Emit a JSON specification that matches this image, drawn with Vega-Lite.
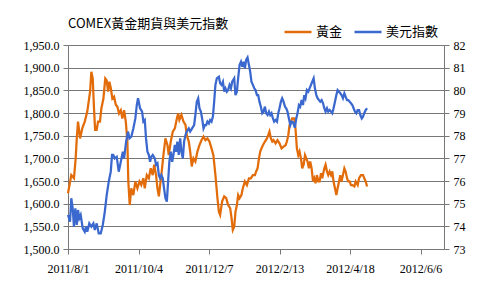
{
  "$schema": "https://vega.github.io/schema/vega-lite/v6.json",
  "width": 376,
  "height": 204,
  "autosize": {"type": "none"},
  "padding": {"left": 68, "top": 45, "right": 37, "bottom": 40},
  "background": "white",
  "config": {
    "view": {"stroke": null},
    "axis": {"labelFont": "Liberation Serif", "labelFontSize": 12, "labelColor": "#000", "domainColor": "#777777", "tickColor": "#777777", "gridColor": "#777777", "gridOpacity": 1, "tickSize": 5},
    "legend": {"labelFont": "Noto Sans CJK TC", "labelFontSize": 13, "labelColor": "#000"}
  },
  "title": {"text": "COMEX黃金期貨與美元指數", "anchor": "start", "frame": "group", "offset": 13, "dy": 27, "font": "Noto Sans CJK TC", "fontSize": 13, "fontWeight": "normal", "color": "#000"},
  "datasets": {
    "gold": [
      {"t":0,"v":1623},{"t":2.1,"v":1663},{"t":3.8,"v":1656},{"t":4.9,"v":1700},{"t":5.6,"v":1744},{"t":6.4,"v":1781},{"t":7.7,"v":1744},{"t":9.1,"v":1766},{"t":10.7,"v":1781},{"t":12.3,"v":1803},{"t":14.1,"v":1847},{"t":14.9,"v":1891},{"t":15.8,"v":1876},{"t":16.6,"v":1810},{"t":17.3,"v":1763},{"t":18.3,"v":1763},{"t":19.2,"v":1781},{"t":20.4,"v":1781},{"t":21.3,"v":1810},{"t":22.6,"v":1832},{"t":23.8,"v":1876},{"t":24.7,"v":1872},{"t":25.6,"v":1847},{"t":26.4,"v":1869},{"t":27.3,"v":1855},{"t":28.3,"v":1832},{"t":29.4,"v":1836},{"t":30.5,"v":1818},{"t":31.5,"v":1814},{"t":32.6,"v":1799},{"t":33.7,"v":1806},{"t":34.7,"v":1788},{"t":35.8,"v":1806},{"t":36.9,"v":1781},{"t":37.9,"v":1737},{"t":38.5,"v":1649},{"t":39.4,"v":1597},{"t":40.4,"v":1634},{"t":41.7,"v":1619},{"t":43.0,"v":1649},{"t":44.3,"v":1634},{"t":45.6,"v":1649},{"t":46.8,"v":1641},{"t":48.1,"v":1656},{"t":49.0,"v":1634},{"t":50.3,"v":1663},{"t":51.6,"v":1656},{"t":52.8,"v":1678},{"t":54.1,"v":1663},{"t":55.0,"v":1686},{"t":56.2,"v":1663},{"t":57.1,"v":1634},{"t":58.0,"v":1616},{"t":58.8,"v":1641},{"t":59.6,"v":1663},{"t":60.9,"v":1707},{"t":62.2,"v":1744},{"t":63.5,"v":1729},{"t":64.3,"v":1707},{"t":65.6,"v":1737},{"t":66.9,"v":1759},{"t":68.2,"v":1766},{"t":69.5,"v":1788},{"t":70.3,"v":1799},{"t":71.1,"v":1785},{"t":72.4,"v":1796},{"t":73.7,"v":1781},{"t":75.0,"v":1774},{"t":75.8,"v":1751},{"t":77.1,"v":1737},{"t":78.0,"v":1715},{"t":79.0,"v":1682},{"t":80.1,"v":1700},{"t":81.3,"v":1693},{"t":82.6,"v":1715},{"t":83.9,"v":1729},{"t":85.2,"v":1740},{"t":86.5,"v":1748},{"t":87.7,"v":1740},{"t":89.0,"v":1744},{"t":90.3,"v":1737},{"t":91.6,"v":1722},{"t":92.8,"v":1707},{"t":94.1,"v":1663},{"t":95.4,"v":1612},{"t":96.3,"v":1582},{"t":97.1,"v":1575},{"t":98.4,"v":1605},{"t":99.7,"v":1616},{"t":101.0,"v":1612},{"t":102.2,"v":1597},{"t":103.5,"v":1590},{"t":104.4,"v":1568},{"t":105.2,"v":1542},{"t":106.1,"v":1549},{"t":106.9,"v":1582},{"t":107.8,"v":1597},{"t":108.6,"v":1619},{"t":109.5,"v":1612},{"t":110.7,"v":1619},{"t":111.6,"v":1634},{"t":112.9,"v":1649},{"t":114.2,"v":1641},{"t":115.5,"v":1656},{"t":116.7,"v":1656},{"t":118.0,"v":1663},{"t":119.3,"v":1663},{"t":120.1,"v":1671},{"t":121.0,"v":1678},{"t":121.9,"v":1700},{"t":122.7,"v":1715},{"t":123.5,"v":1722},{"t":124.4,"v":1729},{"t":125.7,"v":1737},{"t":127.0,"v":1744},{"t":127.8,"v":1751},{"t":128.6,"v":1759},{"t":129.5,"v":1744},{"t":130.4,"v":1737},{"t":131.2,"v":1740},{"t":132.5,"v":1733},{"t":133.7,"v":1740},{"t":135.0,"v":1733},{"t":136.3,"v":1722},{"t":137.6,"v":1726},{"t":138.9,"v":1729},{"t":139.7,"v":1737},{"t":140.6,"v":1751},{"t":141.4,"v":1773},{"t":142.3,"v":1781},{"t":143.1,"v":1788},{"t":144.4,"v":1788},{"t":145.2,"v":1766},{"t":146.1,"v":1722},{"t":147.0,"v":1707},{"t":147.8,"v":1715},{"t":148.7,"v":1700},{"t":149.5,"v":1678},{"t":150.4,"v":1686},{"t":151.3,"v":1707},{"t":152.1,"v":1700},{"t":152.9,"v":1693},{"t":153.8,"v":1678},{"t":154.6,"v":1693},{"t":155.5,"v":1678},{"t":156.4,"v":1649},{"t":157.2,"v":1656},{"t":158.0,"v":1645},{"t":158.9,"v":1663},{"t":159.8,"v":1649},{"t":160.6,"v":1649},{"t":161.5,"v":1667},{"t":162.3,"v":1656},{"t":163.6,"v":1678},{"t":164.4,"v":1686},{"t":165.3,"v":1671},{"t":166.1,"v":1663},{"t":167.0,"v":1671},{"t":167.9,"v":1663},{"t":168.7,"v":1671},{"t":169.5,"v":1649},{"t":170.4,"v":1634},{"t":171.3,"v":1619},{"t":172.1,"v":1634},{"t":173.0,"v":1649},{"t":173.8,"v":1663},{"t":174.6,"v":1649},{"t":175.5,"v":1663},{"t":176.4,"v":1678},{"t":177.2,"v":1671},{"t":178.1,"v":1656},{"t":178.9,"v":1649},{"t":179.8,"v":1649},{"t":180.6,"v":1641},{"t":181.5,"v":1641},{"t":182.8,"v":1638},{"t":183.6,"v":1649},{"t":184.9,"v":1641},{"t":185.8,"v":1656},{"t":187.0,"v":1663},{"t":188.3,"v":1663},{"t":189.1,"v":1656},{"t":190.0,"v":1649},{"t":190.9,"v":1638}
    ],
    "usd": [
      {"t":0,"v":74.50},{"t":1.3,"v":74.21},{"t":2.1,"v":75.24},{"t":3.0,"v":74.79},{"t":3.8,"v":73.99},{"t":4.7,"v":74.79},{"t":5.6,"v":74.06},{"t":6.4,"v":74.72},{"t":7.2,"v":74.35},{"t":8.1,"v":74.50},{"t":9.4,"v":73.91},{"t":10.7,"v":73.76},{"t":11.5,"v":73.99},{"t":12.3,"v":73.76},{"t":13.6,"v":74.13},{"t":14.9,"v":73.99},{"t":16.2,"v":74.13},{"t":17.1,"v":73.84},{"t":18.3,"v":74.13},{"t":19.6,"v":73.69},{"t":20.9,"v":73.69},{"t":22.2,"v":74.06},{"t":23.5,"v":74.65},{"t":24.7,"v":75.38},{"t":26.0,"v":75.97},{"t":27.3,"v":76.41},{"t":28.1,"v":77.15},{"t":28.9,"v":77.15},{"t":29.8,"v":77.00},{"t":31.1,"v":77.07},{"t":32.4,"v":76.41},{"t":33.7,"v":76.85},{"t":35.0,"v":77.29},{"t":35.8,"v":77.00},{"t":37.1,"v":77.74},{"t":38.3,"v":78.18},{"t":39.2,"v":77.88},{"t":40.4,"v":77.96},{"t":41.7,"v":78.32},{"t":43.0,"v":78.76},{"t":43.9,"v":79.35},{"t":44.7,"v":79.65},{"t":46.0,"v":79.21},{"t":47.3,"v":79.06},{"t":48.1,"v":78.62},{"t":49.0,"v":78.69},{"t":49.8,"v":77.88},{"t":50.7,"v":77.29},{"t":51.6,"v":77.15},{"t":52.4,"v":76.85},{"t":53.2,"v":77.07},{"t":54.1,"v":77.15},{"t":55.4,"v":77.00},{"t":56.2,"v":76.71},{"t":57.1,"v":76.78},{"t":58.0,"v":76.26},{"t":58.8,"v":76.12},{"t":59.6,"v":76.26},{"t":60.5,"v":76.12},{"t":61.3,"v":75.68},{"t":62.2,"v":75.24},{"t":63.1,"v":75.09},{"t":63.9,"v":75.97},{"t":64.7,"v":76.85},{"t":65.6,"v":77.29},{"t":66.5,"v":76.85},{"t":67.3,"v":77.15},{"t":68.2,"v":77.59},{"t":69.0,"v":77.29},{"t":69.8,"v":77.74},{"t":70.7,"v":77.15},{"t":71.6,"v":77.88},{"t":72.4,"v":77.29},{"t":73.3,"v":77.00},{"t":74.1,"v":77.74},{"t":75.0,"v":78.03},{"t":75.8,"v":78.18},{"t":77.1,"v":78.32},{"t":78.0,"v":78.18},{"t":79.2,"v":78.32},{"t":80.5,"v":78.47},{"t":81.3,"v":78.91},{"t":82.2,"v":79.50},{"t":83.1,"v":79.65},{"t":83.9,"v":79.21},{"t":84.8,"v":79.06},{"t":85.6,"v":78.76},{"t":86.5,"v":78.32},{"t":87.4,"v":78.47},{"t":88.2,"v":78.47},{"t":89.0,"v":78.62},{"t":89.9,"v":78.54},{"t":90.7,"v":78.69},{"t":91.6,"v":78.62},{"t":92.5,"v":78.84},{"t":93.3,"v":79.50},{"t":94.1,"v":80.24},{"t":95.0,"v":80.53},{"t":96.3,"v":80.60},{"t":97.1,"v":80.31},{"t":98.0,"v":80.24},{"t":98.9,"v":80.38},{"t":99.7,"v":79.94},{"t":100.5,"v":80.09},{"t":101.4,"v":79.94},{"t":102.2,"v":80.01},{"t":103.1,"v":80.24},{"t":104.0,"v":80.09},{"t":104.8,"v":80.38},{"t":106.1,"v":80.53},{"t":106.9,"v":79.79},{"t":107.8,"v":79.94},{"t":108.6,"v":80.53},{"t":109.5,"v":81.12},{"t":110.4,"v":81.26},{"t":111.2,"v":81.04},{"t":112.0,"v":81.26},{"t":112.9,"v":80.97},{"t":113.7,"v":81.34},{"t":114.6,"v":81.45},{"t":115.5,"v":81.12},{"t":116.3,"v":80.82},{"t":117.1,"v":80.38},{"t":118.0,"v":80.24},{"t":118.9,"v":80.09},{"t":119.7,"v":80.01},{"t":120.6,"v":79.79},{"t":121.4,"v":79.79},{"t":122.2,"v":79.50},{"t":123.1,"v":79.28},{"t":124.0,"v":78.99},{"t":124.8,"v":79.06},{"t":125.7,"v":79.28},{"t":126.5,"v":78.99},{"t":127.4,"v":78.91},{"t":128.3,"v":79.06},{"t":129.1,"v":78.91},{"t":129.9,"v":78.99},{"t":130.8,"v":78.76},{"t":131.6,"v":78.62},{"t":132.5,"v":78.69},{"t":133.4,"v":78.62},{"t":134.2,"v":78.99},{"t":135.0,"v":79.21},{"t":135.9,"v":79.50},{"t":136.7,"v":79.65},{"t":137.6,"v":79.50},{"t":138.5,"v":79.28},{"t":139.3,"v":79.21},{"t":140.1,"v":79.06},{"t":141.0,"v":78.76},{"t":141.9,"v":78.47},{"t":142.7,"v":78.62},{"t":143.6,"v":78.60},{"t":144.8,"v":78.35},{"t":145.7,"v":78.76},{"t":146.5,"v":78.99},{"t":147.4,"v":79.35},{"t":148.2,"v":79.28},{"t":149.1,"v":79.57},{"t":150.0,"v":79.35},{"t":150.8,"v":79.79},{"t":151.6,"v":79.65},{"t":152.5,"v":80.01},{"t":153.4,"v":79.94},{"t":154.2,"v":80.09},{"t":155.1,"v":80.24},{"t":155.9,"v":80.38},{"t":156.8,"v":80.53},{"t":157.6,"v":80.09},{"t":158.5,"v":79.79},{"t":159.3,"v":79.65},{"t":160.2,"v":79.57},{"t":161.0,"v":79.50},{"t":161.9,"v":79.57},{"t":162.8,"v":79.43},{"t":163.6,"v":79.21},{"t":164.4,"v":79.06},{"t":165.3,"v":79.21},{"t":166.1,"v":79.06},{"t":167.0,"v":79.13},{"t":167.9,"v":79.06},{"t":168.7,"v":78.99},{"t":169.5,"v":79.21},{"t":170.4,"v":79.50},{"t":171.3,"v":79.79},{"t":172.1,"v":80.01},{"t":173.0,"v":79.94},{"t":173.8,"v":79.87},{"t":174.6,"v":79.79},{"t":175.5,"v":79.65},{"t":176.4,"v":79.87},{"t":177.2,"v":79.72},{"t":178.1,"v":79.57},{"t":178.9,"v":79.57},{"t":179.8,"v":79.50},{"t":180.6,"v":79.43},{"t":181.5,"v":79.35},{"t":182.3,"v":79.21},{"t":183.2,"v":79.06},{"t":184.0,"v":78.99},{"t":184.9,"v":79.13},{"t":185.8,"v":79.13},{"t":186.6,"v":78.91},{"t":187.5,"v":78.76},{"t":188.3,"v":78.84},{"t":189.1,"v":78.99},{"t":190.0,"v":79.13},{"t":190.9,"v":79.21}
    ]
  },
  "layer": [
    {
      "data": {"name": "gold"},
      "mark": {"type": "line", "strokeWidth": 2.25, "interpolate": "linear"},
      "encoding": {
        "x": {"field": "t", "type": "quantitative", "scale": {"domain": [0, 240], "nice": false, "zero": false},
          "axis": {"title": null, "values": [0, 45, 90, 135, 180, 225], "grid": false, "labelPadding": 9, "domainColor": "#777777", "tickColor": "#777777", "labelExpr": "['2011/8/1','2011/10/4','2011/12/7','2012/2/13','2012/4/18','2012/6/6'][round(datum.value/45)]", "labelFlush": false}},
        "y": {"field": "v", "type": "quantitative", "scale": {"domain": [1500, 1950], "nice": false, "zero": false},
          "axis": {"title": null, "values": [1500,1550,1600,1650,1700,1750,1800,1850,1900,1950], "format": ",.1f", "grid": true, "gridColor": "#777777", "gridOpacity": 1, "domainColor": "#777777", "tickColor": "#777777", "labelPadding": 4}},
        "color": {"datum": "黃金", "type": "nominal", "scale": {"domain": ["黃金", "美元指數"], "range": ["#E36C0A", "#3A68CE"]},
          "legend": {"title": null, "orient": "none", "legendX": 215, "legendY": -28, "direction": "horizontal", "symbolType": "stroke", "symbolSize": 729, "symbolStrokeWidth": 2.5, "labelOffset": 3, "columnPadding": 6}}
      }
    },
    {
      "data": {"name": "usd"},
      "mark": {"type": "line", "strokeWidth": 2.25, "interpolate": "linear"},
      "encoding": {
        "x": {"field": "t", "type": "quantitative"},
        "y": {"field": "v", "type": "quantitative", "scale": {"domain": [73, 82], "nice": false, "zero": false},
          "axis": {"title": null, "orient": "right", "values": [73,74,75,76,77,78,79,80,81,82], "grid": false, "domainColor": "#777777", "tickColor": "#777777", "labelPadding": 4}},
        "color": {"datum": "美元指數", "type": "nominal"}
      }
    }
  ],
  "resolve": {"scale": {"y": "independent"}, "axis": {"y": "independent"}}
}
